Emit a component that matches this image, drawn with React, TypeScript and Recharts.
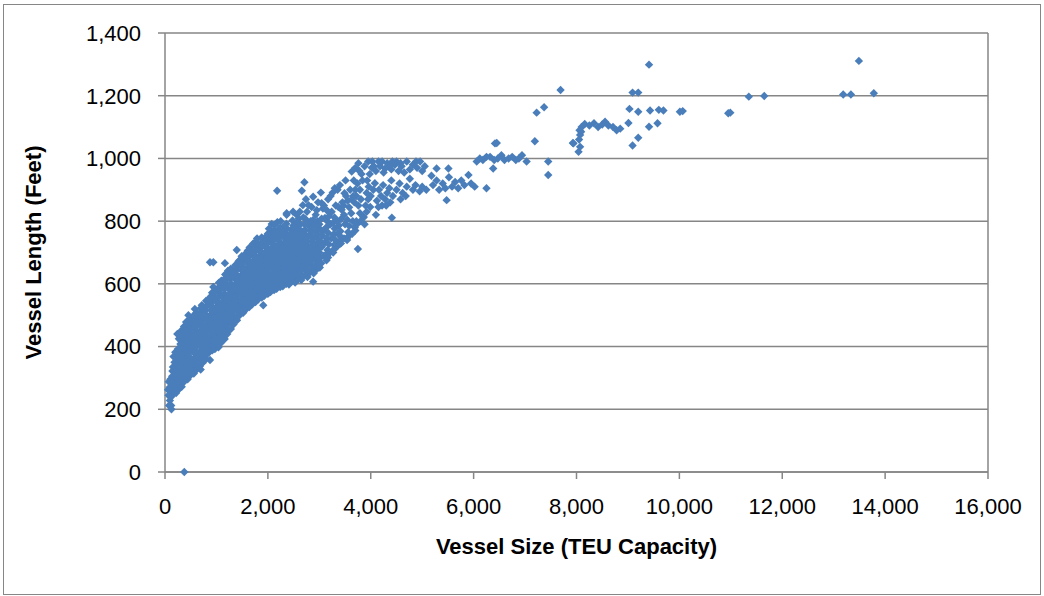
import React from "react";
import {
  ScatterChart,
  Scatter,
  XAxis,
  YAxis,
  CartesianGrid,
  ReferenceLine,
  Label,
} from "recharts";

// [TEU capacity, overall length in feet]
const feederVessels: [number, number][] = [
  [375, 0], [120, 212], [125, 200],
  [80, 212], [95, 228], [70, 245], [110, 238], [60, 262], [90, 270], [120, 255], [75, 288], [105, 296],
  [160, 248], [180, 262], [150, 280], [190, 290], [140, 305], [175, 318], [155, 335], [185, 350], [165, 368], [200, 382], [145, 322],
  [215, 252], [225, 270], [210, 286], [220, 300], [230, 314], [205, 330], [225, 346], [215, 362], [235, 376],
  [260, 262], [290, 276], [250, 295], [280, 310], [240, 328], [300, 342], [265, 358], [285, 375], [250, 392], [300, 408], [270, 425], [240, 440], [310, 450],
  [325, 272], [335, 290], [315, 306], [330, 322], [340, 338], [320, 354], [335, 370], [325, 386], [345, 402], [320, 418], [335, 434], [330, 447],
  [370, 288], [400, 300], [360, 318], [390, 334], [410, 350], [365, 366], [395, 382], [375, 400], [405, 416], [360, 432], [390, 448], [370, 464], [410, 478], [350, 415],
  [440, 296], [450, 312], [430, 328], [445, 344], [460, 360], [435, 376], [450, 392], [440, 408], [460, 424], [430, 440], [450, 456], [440, 470], [455, 484],
  [480, 306], [510, 322], [490, 338], [530, 352], [470, 368], [500, 384], [520, 398], [485, 414], [515, 430], [475, 446], [505, 460], [530, 474], [490, 490], [455, 500],
  [560, 314], [570, 330], [550, 346], [565, 362], [580, 378], [555, 394], [570, 410], [560, 426], [580, 442], [550, 458], [570, 472], [560, 488], [575, 502],
  [600, 324], [630, 338], [610, 356], [645, 370], [590, 386], [625, 402], [650, 418], [605, 434], [635, 448], [595, 464], [620, 480], [650, 494], [610, 508], [580, 520],
  [680, 338], [690, 354], [670, 370], [690, 386], [700, 400], [675, 416], [690, 432], [680, 448], [700, 464], [670, 478], [690, 494], [680, 508], [695, 522],
  [694, 327], [715, 532],
  [730, 348], [760, 362], [720, 378], [750, 392], [775, 408], [735, 424], [765, 440], [745, 456], [710, 470], [755, 486], [725, 500], [770, 514], [740, 528],
  [800, 360], [815, 376], [790, 392], [810, 406], [825, 420], [800, 436], [815, 452], [795, 468], [820, 484], [805, 500], [790, 516], [815, 530], [800, 546],
  [875, 357],
  [850, 380], [880, 394], [840, 408], [870, 422], [895, 436], [855, 452], [885, 468], [845, 484], [875, 500], [900, 516], [860, 532], [835, 548], [890, 560],
  [920, 388], [930, 402], [915, 418], [935, 432], [945, 448], [920, 464], [935, 480], [915, 496], [940, 512], [925, 526], [910, 542], [930, 556], [915, 572],
  [970, 392], [1000, 404], [960, 418], [990, 434], [1015, 450], [975, 466], [1005, 482], [965, 498], [995, 514], [1020, 530], [980, 546], [950, 562], [1000, 578], [940, 590],
  [875, 669], [940, 669],
];

const feederMaxVessels: [number, number][] = [
  [1040, 398], [1050, 414], [1035, 430], [1055, 446], [1065, 460], [1040, 476], [1055, 492], [1035, 508], [1060, 524], [1045, 540], [1030, 556], [1055, 572], [1040, 588], [1050, 604],
  [1090, 412], [1120, 424], [1080, 436], [1110, 452], [1135, 468], [1095, 484], [1125, 500], [1085, 516], [1115, 532], [1140, 548], [1100, 564], [1070, 580], [1130, 596], [1095, 610],
  [1160, 424], [1175, 440], [1150, 456], [1170, 472], [1185, 488], [1160, 504], [1175, 520], [1155, 536], [1180, 552], [1165, 568], [1150, 584], [1175, 600], [1160, 616], [1170, 630],
  [1165, 666],
  [1210, 440], [1240, 452], [1200, 468], [1230, 484], [1255, 500], [1215, 516], [1245, 532], [1205, 548], [1235, 564], [1260, 580], [1220, 596], [1190, 612], [1250, 628], [1225, 642],
  [1280, 456], [1295, 472], [1270, 488], [1290, 504], [1305, 520], [1280, 536], [1295, 552], [1275, 568], [1300, 584], [1285, 600], [1270, 616], [1295, 632], [1280, 648],
  [1330, 470], [1360, 484], [1320, 500], [1350, 516], [1375, 532], [1335, 548], [1365, 564], [1325, 580], [1355, 596], [1380, 612], [1340, 628], [1310, 644], [1370, 660],
  [1400, 484], [1415, 500], [1390, 516], [1410, 532], [1425, 548], [1400, 564], [1415, 580], [1395, 596], [1420, 612], [1405, 628], [1390, 644], [1415, 658],
  [1395, 708], [1460, 676],
  [1450, 500], [1480, 514], [1440, 530], [1470, 546], [1495, 562], [1455, 578], [1485, 594], [1445, 610], [1475, 626], [1500, 642], [1460, 658], [1430, 672], [1490, 688],
  [1520, 508], [1535, 524], [1510, 540], [1530, 556], [1545, 572], [1520, 588], [1535, 604], [1515, 620], [1540, 636], [1525, 652], [1510, 668], [1535, 684],
  [1570, 518], [1600, 534], [1560, 550], [1590, 566], [1615, 582], [1575, 598], [1605, 614], [1565, 630], [1595, 646], [1620, 662], [1580, 678], [1550, 694], [1610, 706],
  [1640, 526], [1655, 542], [1630, 558], [1650, 574], [1665, 590], [1640, 606], [1655, 622], [1635, 638], [1660, 654], [1645, 670], [1630, 686], [1655, 700], [1645, 716],
  [1690, 534], [1720, 550], [1680, 566], [1710, 582], [1735, 598], [1695, 614], [1725, 630], [1685, 646], [1715, 662], [1740, 678], [1700, 694], [1670, 710], [1715, 729],
  [1760, 542], [1775, 558], [1750, 574], [1770, 590], [1785, 606], [1760, 622], [1775, 638], [1755, 654], [1780, 670], [1765, 686], [1750, 702], [1775, 718], [1760, 734],
  [1815, 729], [1910, 532],
  [1810, 550], [1840, 566], [1800, 582], [1830, 598], [1855, 614], [1815, 630], [1845, 646], [1805, 662], [1835, 678], [1860, 694], [1820, 710], [1790, 745],
  [1880, 556], [1895, 572], [1870, 588], [1890, 604], [1905, 620], [1880, 636], [1895, 652], [1875, 668], [1900, 684], [1885, 700], [1870, 716], [1895, 732], [1880, 748],
  [1930, 562], [1960, 578], [1920, 594], [1950, 610], [1975, 626], [1935, 642], [1965, 658], [1925, 674], [1955, 690], [1980, 706], [1940, 722], [1910, 738], [1970, 752],
];

const handysizeVessels: [number, number][] = [
  [2000, 568], [2015, 584], [1990, 600], [2010, 616], [2025, 632], [2000, 648], [2015, 664], [1995, 680], [2020, 696], [2005, 712], [1990, 728], [2015, 744], [2000, 760], [2020, 776],
  [2050, 574], [2080, 590], [2040, 606], [2070, 622], [2095, 638], [2055, 654], [2085, 670], [2045, 686], [2075, 702], [2100, 718], [2060, 734], [2030, 750], [2090, 766], [2075, 791], [2040, 745],
  [2120, 580], [2135, 596], [2110, 612], [2130, 628], [2145, 644], [2120, 660], [2135, 676], [2115, 692], [2140, 708], [2125, 724], [2110, 740], [2135, 756], [2120, 772], [2130, 788],
  [2170, 584], [2200, 598], [2160, 614], [2190, 630], [2215, 646], [2175, 662], [2205, 678], [2165, 694], [2195, 710], [2220, 726], [2180, 742], [2150, 758], [2210, 774], [2185, 797],
  [2180, 897],
  [2240, 590], [2255, 604], [2230, 620], [2250, 636], [2265, 652], [2240, 668], [2255, 684], [2235, 700], [2260, 716], [2245, 732], [2230, 748], [2255, 764], [2240, 780], [2250, 800],
  [2290, 592], [2320, 606], [2280, 622], [2310, 638], [2335, 654], [2295, 670], [2325, 686], [2285, 702], [2315, 718], [2340, 734], [2300, 750], [2330, 763], [2290, 780], [2365, 820], [2365, 825],
  [2360, 600], [2375, 616], [2350, 632], [2370, 648], [2385, 664], [2360, 680], [2375, 696], [2355, 712], [2380, 728], [2365, 744], [2350, 760], [2375, 776], [2360, 792],
  [2410, 598], [2440, 612], [2400, 628], [2430, 644], [2455, 660], [2415, 676], [2445, 692], [2405, 708], [2435, 724], [2460, 740], [2420, 756], [2450, 772], [2490, 830], [2560, 820],
  [2480, 610], [2495, 626], [2470, 642], [2490, 658], [2505, 674], [2480, 690], [2495, 706], [2475, 722], [2500, 738], [2485, 754], [2470, 770], [2495, 786], [2480, 802],
  [2530, 604], [2560, 620], [2520, 636], [2550, 652], [2575, 668], [2535, 684], [2565, 700], [2525, 716], [2555, 732], [2580, 748], [2540, 764], [2510, 780], [2570, 796],
  [2600, 616], [2615, 632], [2590, 648], [2610, 664], [2625, 680], [2600, 696], [2615, 712], [2595, 728], [2620, 744], [2605, 760], [2590, 776], [2615, 792], [2600, 808], [2620, 830],
  [2650, 612], [2680, 624], [2640, 640], [2670, 656], [2695, 672], [2655, 688], [2685, 704], [2645, 720], [2675, 736], [2700, 752], [2660, 768], [2630, 790], [2690, 812], [2680, 851], [2660, 897], [2710, 924],
  [2720, 628], [2735, 644], [2710, 660], [2730, 676], [2745, 692], [2720, 708], [2735, 724], [2715, 740], [2740, 756], [2725, 772], [2710, 790], [2735, 806], [2740, 870],
  [2770, 622], [2800, 634], [2760, 646], [2790, 662], [2815, 680], [2775, 698], [2805, 716], [2765, 734], [2795, 752], [2820, 770], [2780, 788], [2790, 851], [2760, 830],
  [2840, 640], [2855, 656], [2830, 672], [2850, 688], [2865, 704], [2840, 720], [2855, 736], [2835, 752], [2860, 768], [2845, 784], [2830, 800], [2850, 845],
  [2890, 634], [2920, 646], [2880, 607], [2910, 660], [2935, 678], [2895, 696], [2925, 714], [2885, 732], [2915, 750], [2940, 768], [2900, 786], [2880, 804], [2880, 878], [2930, 820],
  [2960, 648], [2975, 664], [2950, 680], [2970, 696], [2985, 712], [2960, 728], [2975, 744], [2955, 760], [2980, 776], [2965, 800], [2950, 835], [2975, 860],
];

const subPanamaxVessels: [number, number][] = [
  [3010, 652], [3040, 666], [3010, 682], [3000, 700], [3050, 718], [3020, 736], [3060, 754], [3030, 772], [3000, 790], [3045, 808], [3030, 891], [3045, 857], [3070, 840],
  [3090, 690], [3100, 730], [3080, 770], [3110, 810], [3090, 850],
  [3140, 675], [3170, 684], [3130, 694], [3160, 708], [3185, 726], [3145, 744], [3175, 762], [3135, 780], [3165, 798], [3190, 816], [3150, 834], [3170, 870],
  [3210, 700], [3230, 745], [3215, 790], [3240, 830], [3220, 880],
  [3270, 700], [3300, 712], [3260, 706], [3290, 724], [3310, 740], [3280, 758], [3300, 776], [3265, 794], [3295, 812], [3260, 891], [3300, 905], [3320, 850],
  [3350, 720], [3360, 760], [3345, 800], [3370, 845], [3355, 900],
  [3400, 728], [3420, 729], [3390, 735], [3430, 748], [3410, 768], [3380, 786], [3420, 806], [3435, 836], [3490, 889], [3400, 915], [3450, 860], [3480, 820],
  [3480, 745], [3500, 790], [3470, 850], [3520, 880], [3510, 930],
  [3540, 740], [3570, 752], [3530, 745], [3560, 765], [3580, 785], [3540, 805], [3580, 844], [3550, 865], [3630, 958], [3660, 880], [3600, 900], [3620, 825],
  [3640, 760], [3650, 800], [3630, 870], [3670, 930],
  [3700, 770], [3730, 790], [3690, 780], [3720, 800], [3750, 711], [3790, 825], [3860, 812], [3860, 814], [3820, 950], [3700, 900], [3740, 920], [3680, 860], [3760, 850], [3720, 880],
  [3800, 800], [3810, 870], [3790, 900], [3840, 930], [3780, 960], [3700, 970], [3760, 985], [3880, 975], [3950, 990],
  [3880, 790], [3920, 830], [3900, 850], [3950, 870], [3920, 890], [3960, 910], [3930, 930], [3980, 950], [4030, 990], [4020, 970], [3990, 845], [4000, 880], [4050, 900], [4080, 921],
];

const panamaxVessels: [number, number][] = [
  [4100, 820], [4150, 845], [4120, 865], [4200, 880], [4160, 900], [4240, 915], [4280, 870], [4320, 890], [4300, 850], [4360, 905], [4410, 811], [4400, 930], [4380, 860], [4430, 880], [4220, 850],
  [4100, 960], [4180, 975], [4250, 955], [4320, 985], [4400, 965], [4470, 980], [4540, 960], [4600, 975], [4700, 990], [4760, 965], [4820, 980], [4900, 970], [4960, 990], [5050, 975], [4150, 990], [4420, 990], [4650, 955],
  [4060, 975], [4220, 990], [4280, 968], [4360, 975], [4500, 990], [4580, 985], [4880, 990], [5000, 960],
  [4500, 900], [4560, 920], [4620, 890], [4700, 910], [4760, 935], [4820, 900], [4870, 915], [4950, 895], [5000, 910], [5080, 900], [5210, 915], [5280, 930], [5330, 900], [5400, 920], [5475, 867],
  [5450, 905], [5520, 940], [5580, 910], [5640, 925], [5700, 905], [5760, 930], [5820, 915], [5900, 947], [5950, 920], [6020, 910], [5280, 968], [5510, 968], [5180, 945], [4580, 870], [4680, 880],
];

const postPanamaxVessels: [number, number][] = [
  [6060, 990], [6120, 1000], [6180, 995], [6250, 1005], [6320, 1005], [6380, 968], [6400, 995], [6470, 1000], [6540, 1010], [6600, 995], [6680, 1000], [6750, 1005], [6820, 995], [6880, 1000], [6940, 1010],
  [6250, 905], [6450, 1049], [6415, 1048], [7030, 990], [7190, 1055], [7225, 1146], [7370, 1163], [7450, 990], [7450, 947], [7690, 1218],
  [7930, 1049], [7940, 1048], [8040, 1021], [8070, 1037], [8070, 1075], [8060, 1090], [8050, 1060], [8100, 1100], [8160, 1110], [8250, 1105], [8340, 1112], [8420, 1100], [8500, 1108], [8555, 1117], [8620, 1105], [8710, 1100], [8780, 1090], [8850, 1095], [8090, 1085],
];

const newPanamaxVessels: [number, number][] = [
  [9010, 1113], [9030, 1158], [9090, 1041], [9090, 1210], [9200, 1210], [9200, 1149], [9200, 1066], [9410, 1299], [9410, 1101], [9430, 1153], [9575, 1112], [9600, 1155], [9690, 1153],
  [10010, 1149], [10065, 1151], [10950, 1144], [10990, 1146], [11350, 1197], [11650, 1199], [13185, 1204], [13335, 1204], [13490, 1311], [13780, 1208],
];

const teuTicks = [0, 2000, 4000, 6000, 8000, 10000, 12000, 14000, 16000];
const lengthTicks = [0, 200, 400, 600, 800, 1000, 1200, 1400];

const vessels = [
  ...feederVessels,
  ...feederMaxVessels,
  ...handysizeVessels,
  ...subPanamaxVessels,
  ...panamaxVessels,
  ...postPanamaxVessels,
  ...newPanamaxVessels,
].map(([teu, feet]) => ({ teu, feet }));

const FONT = "'Liberation Sans', Arial, sans-serif";
const GRID = "#868686";
const MARKER = "#4A7EBB";

const fmt = (v: number) => v.toLocaleString("en-US");

const Diamond = (props: any) => {
  const { cx, cy } = props;
  if (cx == null || cy == null) return null;
  const r = 4.2;
  return (
    <polygon
      points={`${cx},${cy - r} ${cx + r},${cy} ${cx},${cy + r} ${cx - r},${cy}`}
      fill={MARKER}
    />
  );
};

export default function App() {
  return (
    <div style={{ position: "absolute", left: 0, top: 0, width: 1044, height: 596, background: "#fff" }}>
      <div
        style={{
          position: "absolute",
          left: 3,
          top: 4,
          width: 1036,
          height: 589,
          border: `1px solid ${GRID}`,
        }}
      />
      <div style={{ position: "absolute", left: 0, top: 0 }}>
        <ScatterChart
          width={1044}
          height={596}
          margin={{ top: 33, right: 56, bottom: 34, left: 10 }}
        >
          <CartesianGrid horizontal vertical={false} stroke={GRID} strokeWidth={1.5} />
          <XAxis
            type="number"
            dataKey="teu"
            domain={[0, 16000]}
            ticks={teuTicks}
            tickFormatter={fmt}
            height={90}
            tickSize={7}
            tickMargin={19}
            stroke={GRID}
            strokeWidth={1.5}
            tick={{ fill: "#000", fontSize: 22, fontFamily: FONT }}
            interval={0}
          >
            <Label
              value="Vessel Size (TEU Capacity)"
              position="insideBottom"
              offset={8}
              style={{ fill: "#000", fontSize: 22, fontWeight: 700, fontFamily: FONT }}
            />
          </XAxis>
          <YAxis
            type="number"
            dataKey="feet"
            domain={[0, 1400]}
            ticks={lengthTicks}
            tickFormatter={fmt}
            width={155}
            tickSize={7}
            tickMargin={17}
            stroke={GRID}
            strokeWidth={1.5}
            tick={{ fill: "#000", fontSize: 22, fontFamily: FONT }}
            interval={0}
          >
            <Label
              content={(p: any) => {
                const vb = p.viewBox;
                const x = vb.x + 23;
                const y = vb.y + vb.height / 2;
                return (
                  <text
                    x={x}
                    y={y}
                    transform={`rotate(-90, ${x}, ${y})`}
                    textAnchor="middle"
                    dominantBaseline="central"
                    style={{ fill: "#000", fontSize: 22, fontWeight: 700, fontFamily: FONT }}
                  >
                    Vessel Length (Feet)
                  </text>
                );
              }}
            />
          </YAxis>
          <ReferenceLine x={16000} stroke={GRID} strokeWidth={1.5} />
          <Scatter data={vessels} shape={Diamond} isAnimationActive={false} />
        </ScatterChart>
      </div>
    </div>
  );
}
